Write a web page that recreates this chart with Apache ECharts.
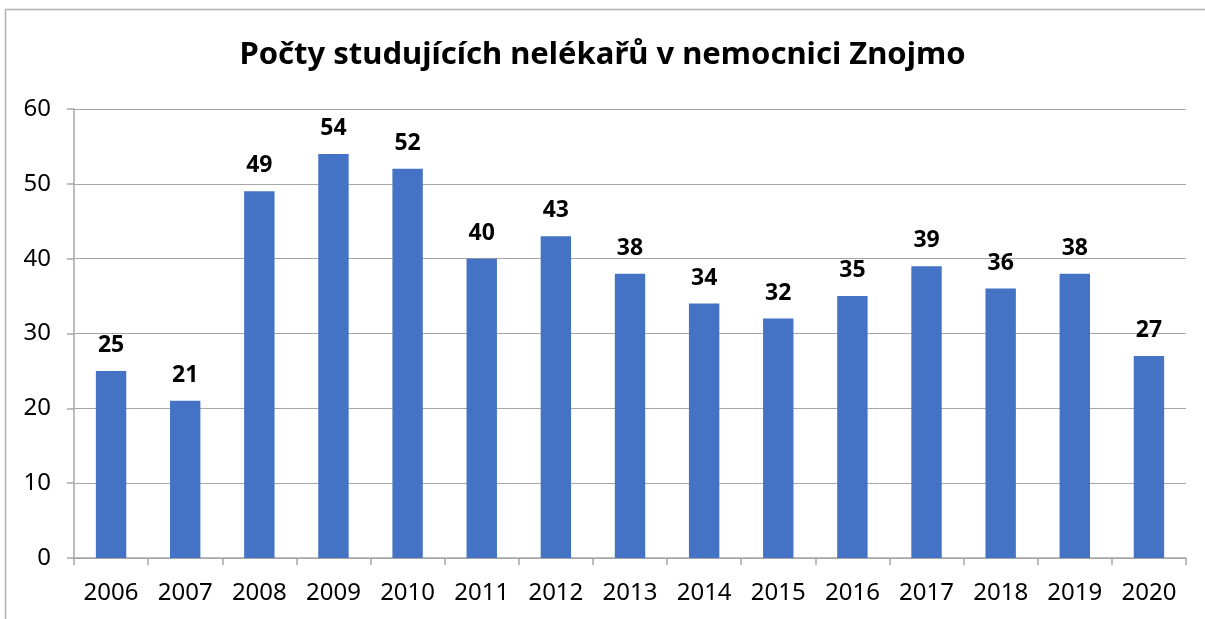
<!DOCTYPE html>
<html>
<head>
<meta charset="utf-8">
<script src="https://cdn.jsdelivr.net/npm/echarts@6/dist/echarts.min.js"></script>
<style>
  html, body { margin: 0; padding: 0; background: #fff; }
  #main { width: 1205px; height: 619px; }
</style>
</head>
<body>
<div id="main"></div>
<script>
// data
const years = ['2006', '2007', '2008', '2009', '2010', '2011', '2012', '2013', '2014', '2015', '2016', '2017', '2018', '2019', '2020'];
const students = [25, 21, 49, 54, 52, 40, 43, 38, 34, 32, 35, 39, 36, 38, 27];
const yTicks = [0, 10, 20, 30, 40, 50, 60];

const font = '"Noto Sans", "Open Sans", sans-serif';
const lineColor = '#a6a6a6';

let myChart = echarts.init(document.getElementById('main'));
let option = {
    animation: false,
    backgroundColor: '#fff',
    title: {
        text: 'Počty studujících nelékařů v nemocnici Znojmo',
        left: 'center',
        top: 35,
        textStyle: {
            fontFamily: font,
            fontSize: 31,
            fontWeight: 'bold',
            color: '#000'
        }
    },
    graphic: [{
        type: 'rect',
        shape: { x: 5.5, y: 9.5, width: 1300, height: 700 },
        style: { fill: 'none', stroke: '#b0b0b0', lineWidth: 1.5 },
        silent: true
    }],
    grid: { left: 74, right: 19, top: 109, bottom: 61 },
    xAxis: {
        type: 'category',
        data: years,
        axisLine: { lineStyle: { color: lineColor, width: 1.5 } },
        axisTick: { show: true, length: 7, alignWithLabel: false, lineStyle: { color: lineColor, width: 1.5 } },
        axisLabel: { fontFamily: font, fontSize: 24, color: '#000', margin: 23 }
    },
    yAxis: {
        type: 'value',
        min: yTicks[0],
        max: yTicks[yTicks.length - 1],
        interval: 10,
        axisLine: { show: true, lineStyle: { color: lineColor, width: 1.5 } },
        axisTick: { show: true, length: 7, lineStyle: { color: lineColor, width: 1.5 } },
        splitLine: { lineStyle: { color: lineColor, width: 1.2 } },
        axisLabel: { fontFamily: font, fontSize: 24, color: '#000', margin: 23 }
    },
    series: [{
        type: 'bar',
        data: students,
        barWidth: '41%',
        itemStyle: { color: '#4472C4' },
        label: {
            show: true,
            position: 'top',
            distance: 14,
            fontFamily: font,
            fontSize: 23,
            fontWeight: 'bold',
            color: '#000'
        }
    }]
};
myChart.setOption(option);
window.onresize = function () {
    myChart.resize();
};
</script>
</body>
</html>
